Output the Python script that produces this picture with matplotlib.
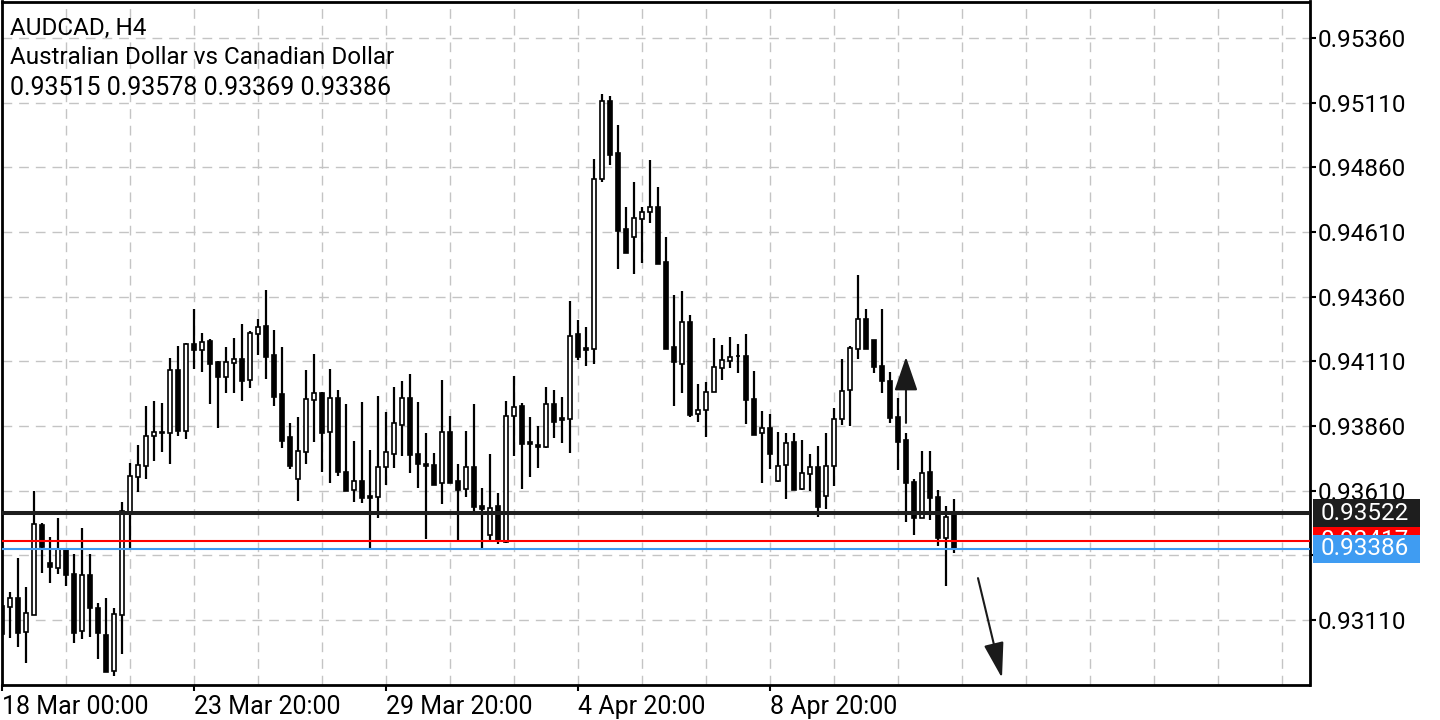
import numpy as np
import matplotlib
matplotlib.use('Agg')
import matplotlib.pyplot as plt
from matplotlib.patches import Rectangle

# AUDCAD H4 candles
opens = [0.93164, 0.93160, 0.93195, 0.93064, 0.93129, 0.93477, 0.93330, 0.93311, 0.93385, 0.93288,
         0.93068, 0.93284, 0.93156, 0.93052, 0.92913, 0.93129, 0.93528, 0.93663, 0.93705, 0.93821,
         0.93833, 0.93833, 0.94077, 0.93841, 0.94177, 0.94154, 0.94189, 0.94108, 0.94050, 0.94104,
         0.94119, 0.94038, 0.94216, 0.94247, 0.94135, 0.93984, 0.93818, 0.93655, 0.93760, 0.93961,
         0.93988, 0.93837, 0.93968, 0.93682, 0.93613, 0.93647, 0.93589, 0.93586, 0.93702, 0.93752,
         0.93864, 0.93968, 0.93752, 0.93713, 0.93709, 0.93640, 0.93837, 0.93647, 0.93616, 0.93702,
         0.93551, 0.93439, 0.93551, 0.93412, 0.93899, 0.93937, 0.93798, 0.93787, 0.93779, 0.93945,
         0.93891, 0.93887, 0.94216, 0.94162, 0.94158, 0.94815, 0.95116, 0.94915, 0.94622, 0.94591,
         0.94660, 0.94687, 0.94707, 0.94494, 0.94166, 0.94100, 0.94262, 0.93906, 0.93922, 0.93991,
         0.94084, 0.94111, 0.94131, 0.94131, 0.93964, 0.93833, 0.93852, 0.93647, 0.93709, 0.93798,
         0.93616, 0.93674, 0.93702, 0.93589, 0.93705, 0.93887, 0.93999, 0.94158, 0.94274, 0.94193,
         0.94092, 0.94034, 0.93895, 0.93806, 0.93644, 0.93504, 0.93682, 0.93586, 0.93427, 0.93515]
highs = [0.93187, 0.93218, 0.93350, 0.93238, 0.93609, 0.93485, 0.93431, 0.93504, 0.93385, 0.93365,
         0.93466, 0.93365, 0.93176, 0.93195, 0.93156, 0.93566, 0.93717, 0.93787, 0.93937, 0.93957,
         0.93949, 0.94123, 0.94169, 0.94181, 0.94312, 0.94220, 0.94196, 0.94111, 0.94166, 0.94200,
         0.94254, 0.94227, 0.94274, 0.94386, 0.94231, 0.94166, 0.93872, 0.93895, 0.94077, 0.94138,
         0.93991, 0.94080, 0.93999, 0.93945, 0.93802, 0.93953, 0.93767, 0.93976, 0.93914, 0.94011,
         0.94034, 0.94061, 0.93953, 0.93833, 0.93756, 0.94038, 0.93899, 0.93713, 0.93841, 0.93945,
         0.93620, 0.93752, 0.93601, 0.93957, 0.94053, 0.93949, 0.93895, 0.93860, 0.94011, 0.93999,
         0.93972, 0.94343, 0.94270, 0.94243, 0.94892, 0.95144, 0.95136, 0.95024, 0.94707, 0.94803,
         0.94707, 0.94888, 0.94784, 0.94591, 0.94366, 0.94382, 0.94289, 0.94022, 0.94030, 0.94200,
         0.94173, 0.94204, 0.94177, 0.94216, 0.94073, 0.93918, 0.93906, 0.93837, 0.93833, 0.93833,
         0.93806, 0.93752, 0.93783, 0.93833, 0.93930, 0.94119, 0.94169, 0.94444, 0.94312, 0.94193,
         0.94312, 0.94069, 0.93968, 0.93833, 0.93655, 0.93763, 0.93763, 0.93613, 0.93551, 0.93578]
lows = [0.93033, 0.93040, 0.93006, 0.92944, 0.93129, 0.93292, 0.93253, 0.93288, 0.93241, 0.93021,
        0.93037, 0.93044, 0.92959, 0.92909, 0.92894, 0.92979, 0.93388, 0.93605, 0.93655, 0.93725,
        0.93760, 0.93713, 0.93821, 0.93810, 0.94080, 0.94069, 0.93945, 0.93852, 0.93988, 0.93988,
        0.93957, 0.94007, 0.94135, 0.94042, 0.93937, 0.93775, 0.93694, 0.93570, 0.93713, 0.93798,
        0.93682, 0.93640, 0.93667, 0.93609, 0.93566, 0.93562, 0.93381, 0.93504, 0.93632, 0.93698,
        0.93744, 0.93678, 0.93620, 0.93423, 0.93632, 0.93558, 0.93640, 0.93415, 0.93586, 0.93528,
        0.93385, 0.93412, 0.93404, 0.93408, 0.93744, 0.93616, 0.93663, 0.93698, 0.93775, 0.93814,
        0.93794, 0.93756, 0.94115, 0.94092, 0.94100, 0.94803, 0.94869, 0.94467, 0.94529, 0.94448,
        0.94490, 0.94645, 0.94486, 0.94158, 0.93937, 0.93988, 0.93895, 0.93875, 0.93818, 0.93991,
        0.94038, 0.94084, 0.94065, 0.93868, 0.93825, 0.93640, 0.93694, 0.93644, 0.93578, 0.93613,
        0.93613, 0.93609, 0.93508, 0.93539, 0.93628, 0.93864, 0.93860, 0.94119, 0.94158, 0.94065,
        0.93988, 0.93872, 0.93690, 0.93489, 0.93439, 0.93504, 0.93497, 0.93396, 0.93241, 0.93369]
closes = [0.93056, 0.93195, 0.93060, 0.93137, 0.93481, 0.93392, 0.93315, 0.93385, 0.93284, 0.93060,
          0.93284, 0.93156, 0.93060, 0.92909, 0.93133, 0.93532, 0.93667, 0.93709, 0.93821, 0.93837,
          0.93835, 0.94077, 0.93841, 0.94177, 0.94154, 0.94185, 0.94100, 0.94050, 0.94108, 0.94119,
          0.94034, 0.94220, 0.94243, 0.94127, 0.93972, 0.93802, 0.93705, 0.93763, 0.93964, 0.93988,
          0.93833, 0.93968, 0.93682, 0.93609, 0.93647, 0.93582, 0.93582, 0.93702, 0.93760, 0.93872,
          0.93968, 0.93748, 0.93713, 0.93705, 0.93632, 0.93837, 0.93640, 0.93613, 0.93702, 0.93547,
          0.93539, 0.93543, 0.93419, 0.93899, 0.93934, 0.93790, 0.93790, 0.93779, 0.93945, 0.93875,
          0.93883, 0.94208, 0.94127, 0.94154, 0.94815, 0.95116, 0.94908, 0.94614, 0.94529, 0.94664,
          0.94687, 0.94707, 0.94486, 0.94158, 0.94108, 0.94262, 0.93903, 0.93922, 0.93991, 0.94088,
          0.94115, 0.94127, 0.94129, 0.93961, 0.93825, 0.93852, 0.93752, 0.93705, 0.93794, 0.93613,
          0.93678, 0.93702, 0.93547, 0.93705, 0.93887, 0.93995, 0.94162, 0.94274, 0.94158, 0.94088,
          0.94034, 0.93891, 0.93798, 0.93640, 0.93504, 0.93678, 0.93582, 0.93427, 0.93508, 0.93386]

date_ticks = [0, 24, 48, 72, 96]
date_labels = ['18 Mar 00:00', '23 Mar 20:00', '29 Mar 20:00', '4 Apr 20:00', '8 Apr 20:00']
price_ticks = [0.93110, 0.93360, 0.93610, 0.93860, 0.94110, 0.94360, 0.94610, 0.94860, 0.95110, 0.95360]
hidden_ticks = [0.93360]  # covered by the price labels in the original

# price lines: (value, colour), drawn bottom to top
price_lines = [(0.93417, '#ff0000'), (0.93522, '#1e1e1e'), (0.93386, '#3f9cf2')]
line_widths = [1.5, 2.9, 1.5]

# hand drawn arrows (bar index, price)
arrow_up = ((113, 0.93872), (113, 0.94127))
arrow_down = ((122, 0.93272), (125, 0.92886))

plt.rcParams['font.family'] = ['Roboto', 'DejaVu Sans']

fig = plt.figure(figsize=(14.4, 7.2), dpi=100)
ax = fig.add_axes([1.5 / 1440, 35 / 720, 1308 / 1440, 683.5 / 720])

o = np.array(opens)
h = np.array(highs)
l = np.array(lows)
c = np.array(closes)
x = np.arange(len(o))
up = c >= o

ax.vlines(x, l, h, color='black', lw=1.6, zorder=3)
ax.bar(x, np.abs(c - o), bottom=np.minimum(o, c), width=0.5,
       color=np.where(up, 'white', 'black'), edgecolor='black', linewidth=1.2, zorder=4)

for (val, col), lw in zip(price_lines, line_widths):
    ax.axhline(val, color=col, lw=lw, zorder=5)

for start, end, hl, hw in [(arrow_up[0], arrow_up[1], 1.05, 0.36), (arrow_down[0], arrow_down[1], 1.1, 0.31)]:
    ax.annotate('', xy=end, xytext=start,
                arrowprops=dict(arrowstyle='-|>,head_length=%s,head_width=%s' % (hl, hw),
                                mutation_scale=20, color='#1a1a1a', lw=1.5,
                                shrinkA=0, shrinkB=0), annotation_clip=False, zorder=6)

ax.set_xlim(-0.0625, 163.44)
ax.set_ylim(0.928588, 0.955012)

ax.set_xticks(date_ticks)
ax.set_xticklabels(date_labels, ha='left')
ax.set_xticks(np.arange(0, 164, 8), minor=True)
ax.tick_params(axis='x', which='major', direction='out', length=4, width=1.5, labelsize=18, pad=3)
ax.tick_params(axis='x', which='minor', length=0)

ax.yaxis.tick_right()
ax.set_yticks(price_ticks)
ax.set_yticklabels(['' if v in hidden_ticks else '%.5f' % v for v in price_ticks])
ax.tick_params(axis='y', direction='out', length=4, width=1.5, labelsize=17.5, pad=2)

ax.grid(True, which='both', axis='x', color='#c4c4c4', lw=1, linestyle=(0, (7, 5)))
ax.grid(True, which='major', axis='y', color='#c4c4c4', lw=1, linestyle=(0, (7, 5)))
ax.set_axisbelow(True)

for s in ax.spines.values():
    s.set_linewidth(2)
    s.set_color('black')

# price labels on the right scale, each box covers the one before
trans = ax.get_yaxis_transform()
px = 0.00003866
for i, (val, col) in enumerate(price_lines):
    ax.add_patch(Rectangle((1.0027, val - 14 * px), 107 / 1308, 28 * px, transform=trans,
                           facecolor=col, edgecolor='none', clip_on=False, zorder=7 + 2 * i))
    ax.text(1.0083, val, '%.5f' % val, transform=trans, color='white', fontsize=17.5,
            ha='left', va='center', clip_on=False, zorder=8 + 2 * i)

fig.text(10 / 1440, 1 - 28 / 720, 'AUDCAD, H4', fontsize=17.5, va='center', ha='left')
fig.text(10 / 1440, 1 - 57 / 720, 'Australian Dollar vs Canadian Dollar', fontsize=17.5, va='center', ha='left')
fig.text(10 / 1440, 1 - 88 / 720, '%.5f %.5f %.5f %.5f' % (opens[-1], highs[-1], lows[-1], closes[-1]),
         fontsize=18, va='center', ha='left')

fig.savefig('out.png', dpi=100, facecolor='white')
